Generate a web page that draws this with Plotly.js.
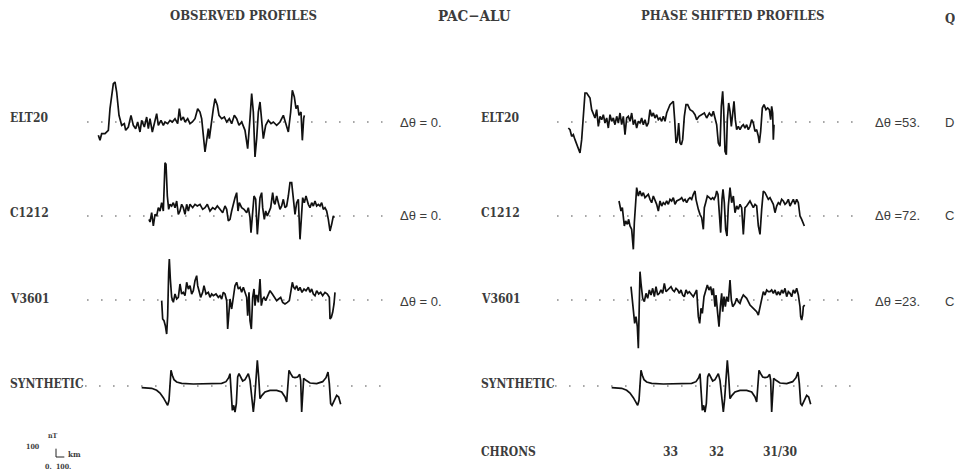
<!DOCTYPE html>
<html>
<head>
<meta charset="utf-8">
<script src="https://cdn.plot.ly/plotly-3.0.1.min.js"></script>
<style>html,body{margin:0;padding:0;background:#fff;}#chart{width:955px;height:475px;}</style>
</head>
<body>
<div id="chart"></div>
<script>
// ---------------- DATA (distance in km, anomaly in nT) ----------------
const rowNames = ["ELT20", "C1212", "V3601", "SYNTHETIC"];
const phaseShiftsObserved = ["Δθ = 0.", "Δθ = 0.", "Δθ = 0."];
const phaseShiftsShifted = ["Δθ =53.", "Δθ =72.", "Δθ =23."];
const qualityCodes = ["D", "C", "C"];
const chronLabels = ["33", "32", "31/30"];
const chronKm = [1260, 1820, 2580];

// Observed profiles
const elt20ObsKm = [40,60,80,120,160,180,220,240,260,288,320,352,368,400,432,460,488,512,540,560,592,620,640,660,688,712,740,760,792,820,840,872,900,928,960,992,1012,1032,1060,1080,1112,1140,1168,1200,1232,1260,1280,1320,1340,1360,1372,1392,1420,1440,1468,1488,1520,1552,1580,1612,1640,1672,1700,1728,1760,1800,1832,1860,1880,1900,1920,1940,1960,1980,2000,2020,2048,2080,2112,2140,2180,2220,2260,2288,2320,2348,2368,2392,2412,2432,2448,2472,2488,2504,2512];
const elt20ObsNT = [-160,-220,-140,-140,-100,160,460,480,360,80,-40,-20,-100,-60,80,-40,-80,0,-120,20,-60,60,-80,40,-120,-20,100,-40,20,-40,0,-20,20,0,40,-20,160,20,60,0,40,-20,0,40,160,120,40,-360,-200,-80,-200,-20,160,280,200,80,40,60,0,40,-20,80,40,-40,0,-100,-320,40,340,120,-420,-200,120,240,0,-200,-40,20,-20,0,-40,0,80,-20,-120,120,380,300,160,200,80,120,-220,40,80];

const c1212ObsKm = [648,660,680,700,720,740,760,780,800,820,840,852,868,884,900,920,940,960,980,1000,1020,1040,1060,1080,1100,1120,1140,1172,1200,1228,1260,1292,1320,1348,1380,1412,1440,1468,1500,1532,1560,1580,1600,1620,1640,1660,1680,1700,1716,1732,1760,1788,1820,1840,1860,1872,1892,1908,1928,1948,1960,1980,2000,2012,2032,2048,2068,2088,2108,2132,2148,2160,2180,2200,2220,2240,2260,2280,2300,2320,2340,2360,2380,2400,2420,2440,2460,2476,2492,2512,2532,2560,2580,2600,2620,2640,2660,2680,2700,2720,2740,2760,2780,2800,2820,2840,2860,2872];
const c1212ObsNT = [-40,-72,40,-120,20,0,100,60,160,60,640,620,240,80,140,120,160,100,180,20,60,140,100,20,140,60,140,100,140,120,140,80,100,140,60,100,80,120,80,40,120,80,-60,-40,60,160,220,280,60,160,100,80,40,100,-20,-200,0,240,200,-220,-60,220,280,100,-40,60,0,40,100,280,160,140,240,160,80,120,200,100,120,240,400,400,200,20,160,200,-280,0,220,160,240,140,100,160,120,180,120,140,120,160,80,100,60,-40,-180,-100,0,-20];

const v3601ObsKm = [800,812,828,844,860,872,884,892,904,920,940,960,980,1000,1020,1040,1060,1080,1100,1120,1140,1160,1180,1200,1220,1232,1248,1268,1292,1308,1332,1360,1380,1400,1420,1452,1480,1500,1520,1540,1560,1580,1592,1604,1620,1640,1660,1680,1700,1720,1740,1760,1780,1800,1820,1832,1848,1860,1876,1892,1908,1920,1932,1944,1960,1980,1996,2012,2028,2048,2072,2100,2128,2152,2180,2204,2228,2252,2280,2308,2332,2352,2368,2384,2400,2420,2440,2460,2484,2508,2532,2560,2580,2600,2620,2640,2660,2684,2708,2732,2760,2788,2812,2820,2836,2852,2868,2880];
const v3601ObsNT = [-8,-228,-248,-308,-408,-188,332,492,252,32,-28,72,12,32,192,72,92,52,212,132,172,72,112,232,292,172,112,32,92,172,72,92,32,72,52,72,32,52,12,92,72,-8,-348,-148,12,-108,52,172,212,132,152,92,152,92,32,-188,92,-248,-348,32,132,-68,52,52,-28,252,-68,12,32,-8,52,112,72,32,-8,12,32,-28,-48,-28,-8,112,212,152,132,172,112,152,92,132,112,152,92,132,72,52,112,72,92,52,92,72,32,-228,-208,-148,-48,92];

// Synthetic profile (same model in both panels)
const synthKm = [560,620,680,740,780,820,852,872,888,900,912,928,948,980,1040,1180,1380,1520,1572,1604,1620,1636,1648,1664,1680,1696,1712,1728,1748,1772,1800,1824,1840,1860,1880,1900,1916,1932,1948,1964,1980,2004,2040,2100,2180,2240,2280,2300,2316,2328,2348,2372,2400,2432,2456,2468,2480,2492,2504,2532,2580,2660,2732,2772,2796,2812,2828,2844,2872,2900,2924,2948];
const synthNT = [-20,-20,-28,-52,-84,-140,-204,-232,-172,28,188,128,76,48,32,24,24,32,52,100,148,-52,-292,-232,-312,-212,108,148,100,60,76,116,148,68,-132,-312,-152,148,308,108,-152,-112,-72,-52,-52,-72,-132,-192,-12,188,148,108,100,108,140,68,-312,-132,92,68,36,28,52,100,168,28,-212,-232,-172,-112,-132,-220];

// Phase shifted profiles
const elt20ShiftKm = [40,60,80,100,120,140,160,180,200,220,240,260,280,300,320,340,360,380,400,420,440,460,480,500,520,540,560,580,600,620,640,660,680,700,720,740,760,780,800,820,840,860,880,900,920,940,960,980,1000,1020,1040,1060,1080,1100,1120,1140,1160,1180,1200,1220,1240,1260,1280,1300,1316,1332,1348,1364,1380,1396,1412,1432,1452,1472,1500,1532,1560,1580,1608,1640,1672,1700,1732,1760,1780,1800,1820,1840,1860,1876,1892,1904,1920,1936,1948,1964,1980,1996,2012,2028,2044,2060,2080,2100,2120,2140,2160,2180,2200,2220,2240,2260,2280,2300,2320,2332,2348,2368,2388,2412,2432,2452,2468,2480,2492,2500,2508];
const elt20ShiftNT = [-72,-92,-172,-152,-212,-272,-312,-372,-212,28,348,348,308,288,148,108,48,148,-52,68,28,88,-12,48,-72,88,8,48,-32,68,-12,108,-32,68,-152,48,68,8,108,-32,28,-72,8,-12,48,-32,28,-52,-12,148,68,108,48,88,28,48,8,68,8,108,168,208,228,248,28,-252,-212,-12,-252,-272,-212,68,208,208,148,128,88,28,68,88,108,48,108,68,128,48,-32,-252,-292,188,368,148,-352,-392,28,228,128,-52,108,248,28,-92,-52,-92,-52,-32,-72,-32,-92,-52,28,-12,-112,-92,-172,-252,-112,168,208,148,168,148,28,188,108,-212,-32];

const c1212ShiftKm = [648,660,672,688,700,712,728,748,764,780,800,820,832,848,860,880,900,920,940,960,980,1000,1020,1040,1060,1080,1100,1120,1140,1160,1180,1200,1220,1240,1260,1280,1300,1320,1340,1380,1400,1420,1440,1460,1480,1500,1520,1540,1560,1572,1588,1600,1620,1640,1660,1672,1688,1708,1732,1752,1772,1788,1808,1820,1836,1852,1868,1884,1896,1912,1928,1944,1960,1980,2000,2020,2040,2060,2080,2100,2120,2140,2160,2180,2200,2220,2240,2260,2280,2300,2320,2340,2360,2380,2400,2420,2440,2460,2480,2500,2520,2540,2560,2580,2600,2620,2640,2660,2680,2700,2720,2740,2760,2780,2800,2820,2840,2860,2872];
const c1212ShiftNT = [180,120,60,100,-20,-120,-60,-100,-40,-120,-160,-400,-80,160,340,240,300,240,280,220,240,260,200,160,240,200,140,60,180,120,160,140,180,140,200,180,220,140,180,200,220,180,200,160,200,220,200,260,300,200,100,80,20,-20,-160,100,160,240,220,200,220,200,240,300,260,-40,-200,200,320,160,-160,-240,120,340,160,240,40,120,80,140,100,-220,100,120,160,180,140,100,140,120,-120,-220,80,300,280,240,200,220,180,140,40,120,160,140,200,180,140,160,200,120,160,200,140,200,160,0,-40,-100,-120];

const v3601ShiftKm = [792,804,820,836,852,868,880,888,900,912,932,952,972,992,1012,1032,1052,1072,1092,1112,1132,1152,1172,1192,1212,1232,1252,1272,1292,1312,1332,1352,1372,1392,1412,1432,1452,1472,1492,1520,1540,1560,1580,1600,1616,1632,1648,1668,1692,1708,1728,1748,1764,1780,1800,1812,1832,1848,1864,1880,1892,1908,1924,1940,1960,1980,1996,2012,2040,2060,2080,2100,2120,2140,2160,2180,2200,2220,2260,2300,2320,2340,2360,2380,2400,2420,2440,2460,2480,2500,2520,2540,2560,2580,2600,2620,2640,2660,2680,2700,2720,2740,2760,2780,2800,2820,2828,2840,2852,2860,2876];
const v3601ShiftNT = [160,40,-160,-280,-200,-320,-580,-80,340,200,20,-20,80,20,120,60,140,40,160,60,80,120,80,200,100,120,140,160,120,100,140,120,80,120,60,40,120,80,100,60,40,80,120,-200,-280,-100,-160,40,120,180,120,160,60,140,-80,60,-160,-320,-80,80,-140,40,-80,40,-20,240,0,-80,-40,20,-20,-40,20,60,40,20,-20,-60,-100,-140,-180,-80,20,100,60,120,100,100,120,80,120,60,100,60,120,80,140,40,100,80,40,120,80,140,60,-80,-200,-240,-180,-80,-60];

// Dotted reference lines (km) for each panel
const baseLineObservedKm = [-96, 3450];
const baseLineShiftedKm = [-96, 3540];
const synthLineKm = [-120, 3540];

// Scale bar (100 nT, 100 km)
const scaleBarKm = [0, 100];
const scaleBarNT = [0, 100];

// ---------------- LAYOUT HELPERS ----------------
const W = 955, H = 475, K = 12;            // K = km (or nT) per pixel
function yBand(basePx, topPx, botPx) {
  return {domain: [1 - botPx / H, 1 - topPx / H], range: [(basePx - botPx) * K, (basePx - topPx) * K],
          visible: false, fixedrange: true, anchor: 'x'};
}
function xPanel(d0, d1, originPx) {
  return {domain: [d0, d1], range: [(d0 * W - originPx) * K, (d1 * W - originPx) * K], visible: false, fixedrange: true};
}
const serif = "DejaVu Serif Condensed, DejaVu Serif, serif";
const sans = "Liberation Sans, Arial, sans-serif";
const textColor = '#3c3c3c';
function ann(text, xPx, yPx, size, family, xanchor, weight) {
  return {text: text, xref: 'paper', yref: 'paper', x: xPx / W, y: 1 - yPx / H, showarrow: false,
          xanchor: xanchor || 'left', yanchor: 'middle', font: {family: family, size: size, color: textColor, weight: weight || 'normal'}};
}

const profLine = {color: '#111', width: 1.7};
const dotLine = {color: '#8a8a8a', width: 1.6, dash: '1.6px,12.4px'};
function prof(x, y, xa, ya) { return {x: x, y: y, xaxis: xa, yaxis: ya, mode: 'lines', line: profLine, hoverinfo: 'skip', showlegend: false}; }
function dots(x, xa, ya) { return {x: x, y: [0, 0], xaxis: xa, yaxis: ya, mode: 'lines', line: dotLine, hoverinfo: 'skip', showlegend: false}; }

const traces = [
  dots(baseLineObservedKm, 'x', 'y'), dots(baseLineObservedKm, 'x', 'y2'), dots(baseLineObservedKm, 'x', 'y3'), dots(synthLineKm, 'x', 'y4'),
  dots(baseLineShiftedKm, 'x2', 'y'), dots(baseLineShiftedKm, 'x2', 'y2'), dots(baseLineShiftedKm, 'x2', 'y3'), dots(synthLineKm, 'x2', 'y4'),
  prof(elt20ObsKm, elt20ObsNT, 'x', 'y'),
  prof(c1212ObsKm, c1212ObsNT, 'x', 'y2'),
  prof(v3601ObsKm, v3601ObsNT, 'x', 'y3'),
  prof(synthKm, synthNT, 'x', 'y4'),
  prof(elt20ShiftKm, elt20ShiftNT, 'x2', 'y'),
  prof(c1212ShiftKm, c1212ShiftNT, 'x2', 'y2'),
  prof(v3601ShiftKm, v3601ShiftNT, 'x2', 'y3'),
  prof(synthKm, synthNT, 'x2', 'y4'),
  // scale bar: vertical 100 nT and horizontal 100 km
  {x: [scaleBarKm[0], scaleBarKm[0], scaleBarKm[1]], y: [scaleBarNT[1], scaleBarNT[0], scaleBarNT[0]], xaxis: 'x3', yaxis: 'y5',
   mode: 'lines', line: {color: '#222', width: 1}, hoverinfo: 'skip', showlegend: false}
];

const annotations = [
  ann('OBSERVED PROFILES', 243, 16, 13, serif, 'center', 'bold'),
  ann('PAC−ALU', 474, 16, 15, serif, 'center', 'bold'),
  ann('PHASE SHIFTED PROFILES', 733, 16, 13, serif, 'center', 'bold'),
  ann('Q', 943, 18, 13, serif, 'left', 'bold'),
  ann('CHRONS', 479, 452, 12, serif, 'left', 'bold'),
  ann('nT', 53, 435, 7, serif, 'center', 'bold'),
  ann('100', 33, 446, 7, serif, 'center', 'bold'),
  ann('km', 74, 454, 8, serif, 'center', 'bold'),
  ann('0.  100.', 58, 466, 7, serif, 'center', 'bold')
];
const rowY = [118, 213, 299, 384];
const dthY = [123, 216, 301];
rowNames.forEach((n, i) => {
  annotations.push(ann(n, 8, rowY[i], 12, serif, 'left', 'bold'));
  annotations.push(ann(n, 479, rowY[i], 12, serif, 'left', 'bold'));
});
phaseShiftsObserved.forEach((t, i) => annotations.push(ann(t, 398, dthY[i], 13, sans, 'left')));
phaseShiftsShifted.forEach((t, i) => annotations.push(ann(t, 873, dthY[i], 13, sans, 'left')));
qualityCodes.forEach((t, i) => annotations.push(ann(t, 943, dthY[i], 13, sans, 'left')));
chronLabels.forEach((t, i) => annotations.push({text: t, xref: 'x2', yref: 'paper', x: chronKm[i], y: 1 - 452 / H,
  showarrow: false, xanchor: 'center', yanchor: 'middle', font: {family: serif, size: 12, color: textColor, weight: 'bold'}}));

const layout = {
  width: W, height: H, margin: {l: 0, r: 0, t: 0, b: 0},
  paper_bgcolor: '#fff', plot_bgcolor: 'rgba(0,0,0,0)', showlegend: false,
  xaxis: xPanel(0, 0.5, 95),
  xaxis2: xPanel(0.5, 1, 565),
  xaxis3: Object.assign(xPanel(0, 0.5, 56), {anchor: 'y5'}),
  yaxis: yBand(122, 30, 160),
  yaxis2: yBand(216, 160, 256),
  yaxis3: yBand(300, 256, 356),
  yaxis4: yBand(386, 356, 440),
  yaxis5: Object.assign(yBand(457, 440, 475), {anchor: 'x3'}),
  annotations: annotations
};
Plotly.newPlot('chart', traces, layout, {staticPlot: true, displayModeBar: false});
</script>
</body>
</html>
